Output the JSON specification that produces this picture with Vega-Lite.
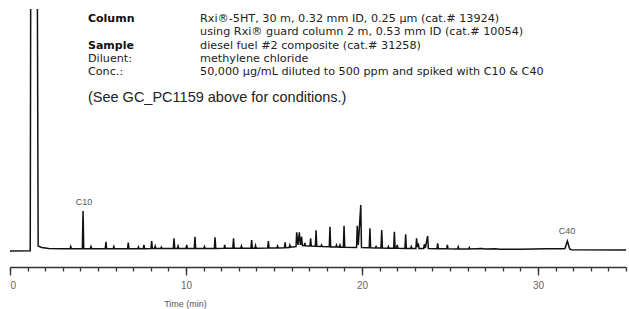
{
  "$schema": "https://vega.github.io/schema/vega-lite/v6.json",
  "width": 616,
  "height": 246,
  "autosize": {"type": "none"},
  "padding": {"left": 10, "top": 9, "right": 3, "bottom": 54},
  "background": "white",
  "config": {"view": {"stroke": null}},
  "datasets": {
    "trace": [
      {"t": 0, "v": 4}, {"t": 1.15, "v": 4.2}, {"t": 1.19, "v": 400}, {"t": 1.53, "v": 400}, {"t": 1.6, "v": 9}, {"t": 1.8, "v": 7.5}, {"t": 2.2, "v": 6.6}, {"t": 3.0, "v": 6.2},
      {"t": 3.41, "v": 6.2}, {"t": 3.45, "v": 8.5}, {"t": 3.49, "v": 6.2},
      {"t": 4.11, "v": 6.2}, {"t": 4.15, "v": 44}, {"t": 4.19, "v": 6.2},
      {"t": 4.56, "v": 6.2}, {"t": 4.6, "v": 8.5}, {"t": 4.64, "v": 6.2},
      {"t": 5.41, "v": 6.2}, {"t": 5.45, "v": 13.3}, {"t": 5.49, "v": 6.2},
      {"t": 5.86, "v": 6.2}, {"t": 5.9, "v": 8.5}, {"t": 5.94, "v": 6.2},
      {"t": 6.68, "v": 6.3}, {"t": 6.72, "v": 12.3}, {"t": 6.76, "v": 6.3},
      {"t": 7.26, "v": 6.3}, {"t": 7.3, "v": 8}, {"t": 7.34, "v": 6.3},
      {"t": 7.57, "v": 6.3}, {"t": 7.61, "v": 10}, {"t": 7.65, "v": 6.3},
      {"t": 8.01, "v": 6.4}, {"t": 8.05, "v": 14}, {"t": 8.09, "v": 6.4},
      {"t": 8.21, "v": 6.4}, {"t": 8.25, "v": 9}, {"t": 8.29, "v": 6.4},
      {"t": 8.56, "v": 6.4}, {"t": 8.6, "v": 8}, {"t": 8.64, "v": 6.4},
      {"t": 9.28, "v": 6.5}, {"t": 9.32, "v": 16.7}, {"t": 9.36, "v": 6.5},
      {"t": 9.51, "v": 6.5}, {"t": 9.55, "v": 9}, {"t": 9.59, "v": 6.5},
      {"t": 10.0, "v": 6.5}, {"t": 10.04, "v": 10}, {"t": 10.08, "v": 6.5},
      {"t": 10.47, "v": 6.5}, {"t": 10.51, "v": 18.3}, {"t": 10.55, "v": 6.5},
      {"t": 11.01, "v": 6.6}, {"t": 11.05, "v": 8.5}, {"t": 11.09, "v": 6.6},
      {"t": 11.61, "v": 6.6}, {"t": 11.65, "v": 17.7}, {"t": 11.69, "v": 6.6},
      {"t": 12.16, "v": 6.7}, {"t": 12.2, "v": 10}, {"t": 12.24, "v": 6.7},
      {"t": 12.66, "v": 6.7}, {"t": 12.7, "v": 16.7}, {"t": 12.74, "v": 6.7},
      {"t": 13.11, "v": 6.8}, {"t": 13.15, "v": 9}, {"t": 13.19, "v": 6.8},
      {"t": 13.69, "v": 6.8}, {"t": 13.73, "v": 15}, {"t": 13.77, "v": 6.8},
      {"t": 13.91, "v": 6.8}, {"t": 13.95, "v": 9.5}, {"t": 13.99, "v": 6.8},
      {"t": 14.64, "v": 6.9}, {"t": 14.68, "v": 14}, {"t": 14.72, "v": 6.9},
      {"t": 15.16, "v": 7}, {"t": 15.2, "v": 9}, {"t": 15.24, "v": 7},
      {"t": 15.59, "v": 7.2}, {"t": 15.63, "v": 12.7}, {"t": 15.67, "v": 7.2},
      {"t": 15.86, "v": 7.5}, {"t": 15.9, "v": 10}, {"t": 15.94, "v": 7.8},
      {"t": 16.25, "v": 8.5}, {"t": 16.29, "v": 22.7}, {"t": 16.36, "v": 10}, {"t": 16.44, "v": 22.7}, {"t": 16.5, "v": 10}, {"t": 16.57, "v": 18.3}, {"t": 16.61, "v": 9.5},
      {"t": 16.71, "v": 9.3}, {"t": 16.75, "v": 12}, {"t": 16.79, "v": 9.2},
      {"t": 17.04, "v": 9}, {"t": 17.08, "v": 16.7}, {"t": 17.12, "v": 9},
      {"t": 17.35, "v": 8.8}, {"t": 17.39, "v": 24.7}, {"t": 17.43, "v": 8.7},
      {"t": 17.66, "v": 8.5}, {"t": 17.7, "v": 10}, {"t": 17.74, "v": 8.4},
      {"t": 18.14, "v": 8.2}, {"t": 18.18, "v": 28.3}, {"t": 18.22, "v": 8.1},
      {"t": 18.51, "v": 8}, {"t": 18.55, "v": 10}, {"t": 18.59, "v": 8},
      {"t": 18.71, "v": 7.9}, {"t": 18.75, "v": 10}, {"t": 18.79, "v": 7.8},
      {"t": 18.94, "v": 7.8}, {"t": 18.98, "v": 29.3}, {"t": 19.02, "v": 7.7},
      {"t": 19.69, "v": 7.5}, {"t": 19.73, "v": 29.3}, {"t": 19.79, "v": 10}, {"t": 19.93, "v": 50}, {"t": 19.97, "v": 7.4},
      {"t": 20.41, "v": 7.2}, {"t": 20.45, "v": 26.7}, {"t": 20.49, "v": 7.2},
      {"t": 20.76, "v": 7}, {"t": 20.8, "v": 8.5}, {"t": 20.84, "v": 7},
      {"t": 21.08, "v": 6.9}, {"t": 21.12, "v": 25}, {"t": 21.16, "v": 6.9},
      {"t": 21.46, "v": 6.8}, {"t": 21.5, "v": 8.5}, {"t": 21.54, "v": 6.8},
      {"t": 21.8, "v": 6.7}, {"t": 21.84, "v": 23.3}, {"t": 21.88, "v": 6.7},
      {"t": 21.96, "v": 6.7}, {"t": 22.0, "v": 10}, {"t": 22.04, "v": 6.7},
      {"t": 22.44, "v": 6.6}, {"t": 22.48, "v": 20.7}, {"t": 22.52, "v": 6.6},
      {"t": 22.76, "v": 6.5}, {"t": 22.8, "v": 8.5}, {"t": 22.84, "v": 6.5},
      {"t": 23.06, "v": 6.5}, {"t": 23.1, "v": 16.7}, {"t": 23.15, "v": 8}, {"t": 23.2, "v": 11.7}, {"t": 23.24, "v": 6.5},
      {"t": 23.5, "v": 6.4}, {"t": 23.54, "v": 10.7}, {"t": 23.6, "v": 7}, {"t": 23.73, "v": 19}, {"t": 23.77, "v": 6.4},
      {"t": 24.26, "v": 6.3}, {"t": 24.3, "v": 11.7}, {"t": 24.34, "v": 6.3},
      {"t": 24.81, "v": 6.2}, {"t": 24.85, "v": 10}, {"t": 24.89, "v": 6.2},
      {"t": 25.43, "v": 6.1}, {"t": 25.47, "v": 8.3}, {"t": 25.51, "v": 6.1},
      {"t": 26.06, "v": 6}, {"t": 26.1, "v": 7.5}, {"t": 26.14, "v": 6},
      {"t": 26.8, "v": 6.5}, {"t": 27.0, "v": 5.9}, {"t": 27.6, "v": 6.3}, {"t": 27.8, "v": 5.8},
      {"t": 29.0, "v": 5.8}, {"t": 30.5, "v": 6.2}, {"t": 31.4, "v": 6.3},
      {"t": 31.53, "v": 6.5}, {"t": 31.67, "v": 14}, {"t": 31.8, "v": 6}, {"t": 31.9, "v": 5.2},
      {"t": 35, "v": 5}
    ],
    "peaks": [
      {"label": "C10", "t": 4.2, "v": 53.5},
      {"label": "C40", "t": 31.65, "v": 24.5}
    ],
    "heads": [
      {"label": "Column", "t": 4.43, "v": 236},
      {"label": "Sample", "t": 4.43, "v": 209.4}
    ],
    "names": [
      {"label": "Diluent:", "t": 4.43, "v": 196.1},
      {"label": "Conc.:", "t": 4.43, "v": 182.8}
    ],
    "details": [
      {"label": "Rxi®-5HT, 30 m, 0.32 mm ID, 0.25 µm (cat.# 13924)", "t": 10.8, "v": 236},
      {"label": "using Rxi® guard column 2 m, 0.53 mm ID (cat.# 10054)", "t": 10.8, "v": 222.7},
      {"label": "diesel fuel #2 composite (cat.# 31258)", "t": 10.8, "v": 209.4},
      {"label": "methylene chloride", "t": 10.8, "v": 196.1},
      {"label": "50,000 µg/mL diluted to 500 ppm and spiked with C10 & C40", "t": 10.8, "v": 182.8}
    ],
    "note": [
      {"label": "(See GC_PC1159 above for conditions.)", "t": 4.43, "v": 157}
    ]
  },
  "resolve": {"axis": {"x": "independent"}},
  "layer": [
    {
      "data": {"name": "trace"},
      "mark": {"type": "line", "clip": true, "color": "#111111", "strokeWidth": 1.5, "interpolate": "linear"},
      "encoding": {
        "x": {"field": "t", "type": "quantitative", "scale": {"domain": [0, 35], "nice": false, "zero": false},
          "axis": {"values": [0,1,2,3,4,5,6,7,8,9,10,11,12,13,14,15,16,17,18,19,20,21,22,23,24,25,26,27,28,29,30,31,32,33,34,35],
            "labels": false, "title": null, "grid": false, "domain": true, "domainColor": "#333333", "domainWidth": 1.5,
            "tickColor": "#333333", "tickSize": 4, "tickWidth": 1.3, "offset": 12, "orient": "bottom"}},
        "y": {"field": "v", "type": "quantitative", "scale": {"domain": [0, 246], "nice": false, "zero": false}, "axis": null}
      }
    },
    {
      "data": {"name": "peaks"},
      "mark": {"type": "text", "font": "Liberation Sans", "fontSize": 9, "color": "#555555", "baseline": "middle", "align": "center"},
      "encoding": {
        "x": {"field": "t", "type": "quantitative", "scale": {"domain": [0, 35], "nice": false, "zero": false},
          "axis": {"values": [0, 10, 20, 30], "orient": "bottom", "domain": false, "grid": false, "tickSize": 8, "tickWidth": 1.3, "tickColor": "#333333",
            "offset": 12, "labelFont": "Liberation Sans", "labelFontSize": 10, "labelColor": "#666666", "labelPadding": 5,
            "title": "Time (min)", "titleFont": "Liberation Sans", "titleFontSize": 9, "titleFontWeight": "normal", "titleColor": "#555555",
            "titleX": 175, "titleY": 36, "titleAlign": "center", "titleBaseline": "middle", "titleAnchor": null}},
        "y": {"field": "v", "type": "quantitative", "scale": {"domain": [0, 246], "nice": false, "zero": false}, "axis": null},
        "text": {"field": "label"}
      }
    },
    {
      "data": {"name": "heads"},
      "mark": {"type": "text", "font": "DejaVu Sans", "fontSize": 11, "fontWeight": "bold", "color": "#111111", "baseline": "middle", "align": "left"},
      "encoding": {
        "x": {"field": "t", "type": "quantitative", "scale": {"domain": [0, 35]}, "axis": null},
        "y": {"field": "v", "type": "quantitative", "scale": {"domain": [0, 246]}, "axis": null},
        "text": {"field": "label"}
      }
    },
    {
      "data": {"name": "names"},
      "mark": {"type": "text", "font": "DejaVu Sans", "fontSize": 11.2, "color": "#222222", "baseline": "middle", "align": "left"},
      "encoding": {
        "x": {"field": "t", "type": "quantitative", "scale": {"domain": [0, 35]}, "axis": null},
        "y": {"field": "v", "type": "quantitative", "scale": {"domain": [0, 246]}, "axis": null},
        "text": {"field": "label"}
      }
    },
    {
      "data": {"name": "details"},
      "mark": {"type": "text", "font": "DejaVu Sans", "fontSize": 11.2, "color": "#222222", "baseline": "middle", "align": "left"},
      "encoding": {
        "x": {"field": "t", "type": "quantitative", "scale": {"domain": [0, 35]}, "axis": null},
        "y": {"field": "v", "type": "quantitative", "scale": {"domain": [0, 246]}, "axis": null},
        "text": {"field": "label"}
      }
    },
    {
      "data": {"name": "note"},
      "mark": {"type": "text", "font": "Liberation Sans", "fontSize": 14.5, "color": "#222222", "baseline": "middle", "align": "left"},
      "encoding": {
        "x": {"field": "t", "type": "quantitative", "scale": {"domain": [0, 35]}, "axis": null},
        "y": {"field": "v", "type": "quantitative", "scale": {"domain": [0, 246]}, "axis": null},
        "text": {"field": "label"}
      }
    }
  ]
}
